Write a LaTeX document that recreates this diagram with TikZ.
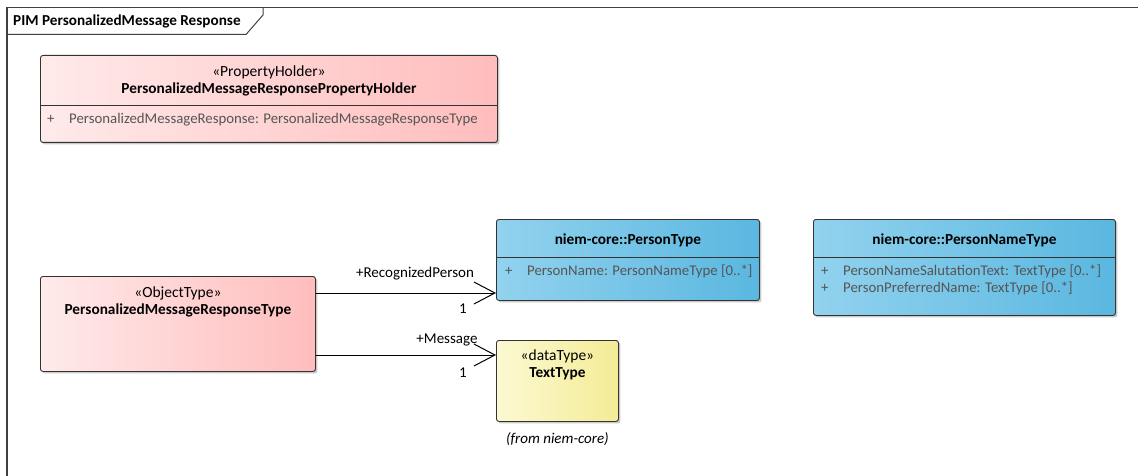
\documentclass[tikz,border=0pt]{standalone}
\usepackage{fontspec}
\setmainfont{Carlito}
\usepackage{tikz}
\usetikzlibrary{arrows.meta, shadows, calc, positioning}

\definecolor{pinkL}{HTML}{FFEAEA}
\definecolor{pinkR}{HTML}{FFBDBD}
\definecolor{blueL}{HTML}{92D2EE}
\definecolor{blueR}{HTML}{5AB7E0}
\definecolor{yelL}{HTML}{FBF9D2}
\definecolor{yelR}{HTML}{F4EC96}
\definecolor{attrgray}{HTML}{555555}

\newcommand{\attrline}[1]{\makebox[22pt][l]{+}#1}

\begin{document}
\begin{tikzpicture}[
    x=1pt, y=-1pt,
    umlbox/.style={rectangle, draw=black!80, line width=0.9pt, rounded corners=2.5pt, anchor=north west, inner sep=0pt, drop shadow={shadow xshift=2pt, shadow yshift=-2pt, opacity=0.35, fill=black!60}},
    objbox/.style={umlbox, left color=pinkL, right color=pinkR},
    corebox/.style={umlbox, left color=blueL, right color=blueR},
    databox/.style={umlbox, left color=yelL, right color=yelR},
    stereo/.style={font=\fontsize{15.5}{17}\selectfont, inner sep=0pt},
    title/.style={font=\fontsize{15.3}{17}\selectfont\bfseries, inner sep=0pt},
    attr/.style={font=\fontsize{14.8}{16}\selectfont, text=attrgray, inner sep=0pt, anchor=west},
    lbl/.style={font=\fontsize{15}{16}\selectfont, inner sep=0pt},
    divider/.style={draw=black!80, line width=0.9pt},
    assoc/.style={draw, line width=1pt, -{Straight Barb[length=21pt, width=22pt, line width=1pt]}}
]
    \useasboundingbox (0,0) rectangle (1138,476);

    % Diagram frame
    \draw[line width=1.2pt, draw=black!75] (7,476) -- (7,7.5) -- (1138,7.5);
    \draw[line width=1pt, draw=black!75] (263,7.5) -- (263,15) -- (246,34.5) -- (7,34.5);
    \node[font=\fontsize{15.2}{17}\selectfont\bfseries, anchor=west, inner sep=0pt] (frametitle) at (13,21) {PIM PersonalizedMessage Response};

    % Property holder
    \node[objbox, minimum width=457pt, minimum height=87pt] (holder) at (40,55) {};
    \node[stereo] (holderst) at ($(holder.north)+(0,17)$) {«PropertyHolder»};
    \node[title] (holdername) at ($(holder.north)+(0,34)$) {PersonalizedMessageResponsePropertyHolder};
    \draw[divider] ($(holder.north west)+(0,50)$) -- ($(holder.north east)+(0,50)$);
    \node[attr] (holderattr) at ($(holder.north west)+(7,65)$) {\attrline{PersonalizedMessageResponse: PersonalizedMessageResponseType}};

    % Object type
    \node[objbox, minimum width=275pt, minimum height=95pt] (objtype) at (40,276) {};
    \node[stereo] (objst) at ($(objtype.north)+(0,17)$) {«ObjectType»};
    \node[title] (objname) at ($(objtype.north)+(0,34)$) {PersonalizedMessageResponseType};

    % niem-core::PersonType
    \node[corebox, minimum width=263pt, minimum height=81pt] (person) at (496,219) {};
    \node[title] (personname) at ($(person.north)+(0,21)$) {niem-core::PersonType};
    \draw[divider] ($(person.north west)+(0,38)$) -- ($(person.north east)+(0,38)$);
    \node[attr] (personattr) at ($(person.north west)+(9,52)$) {\attrline{PersonName: PersonNameType [0..*]}};

    % niem-core::PersonNameType
    \node[corebox, minimum width=302pt, minimum height=96pt] (pname) at (813,219) {};
    \node[title] (pnamename) at ($(pname.north)+(0,21)$) {niem-core::PersonNameType};
    \draw[divider] ($(pname.north west)+(0,38)$) -- ($(pname.north east)+(0,38)$);
    \node[attr] (pnameattra) at ($(pname.north west)+(8,52)$) {\attrline{PersonNameSalutationText: TextType [0..*]}};
    \node[attr] (pnameattrb) at ($(pname.north west)+(8,69)$) {\attrline{PersonPreferredName: TextType [0..*]}};

    % TextType
    \node[databox, minimum width=122pt, minimum height=81pt] (text) at (496,340) {};
    \node[stereo] (textst) at ($(text.north)+(0,16)$) {«dataType»};
    \node[title] (textname) at ($(text.north)+(0,34)$) {TextType};
    \node[lbl, font=\fontsize{15}{16}\selectfont\itshape] (textfrom) at ($(text.south)+(0,17)$) {(from niem-core)};

    % Associations
    \coordinate (recstart) at ($(objtype.north east)+(0,17)$);
    \coordinate (msgstart) at ($(objtype.north east)+(0,79)$);
    \path[assoc] (recstart) -- (recstart -| person.west);
    \path[assoc] (msgstart) -- (msgstart -| text.west);
    \node[lbl] (recrole) at (415,274) {+RecognizedPerson};
    \node[lbl] (recmult) at (463,309) {1};
    \node[lbl] (msgrole) at (447,340) {+Message};
    \node[lbl] (msgmult) at (463,373) {1};

\end{tikzpicture}
\end{document}
